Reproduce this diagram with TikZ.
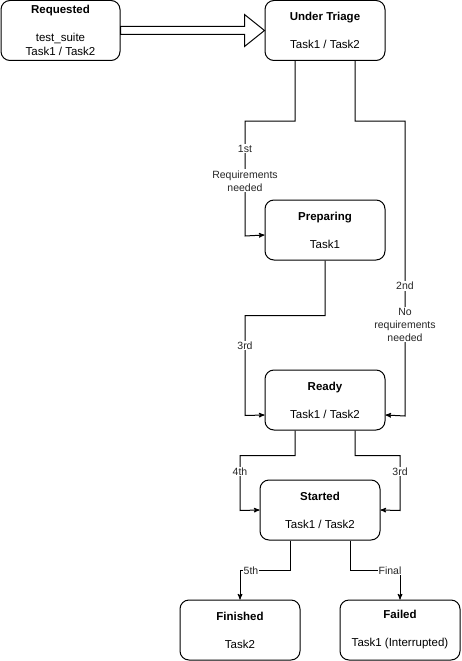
\documentclass[tikz,border=0pt]{standalone}
\usepackage{fontspec}
\setmainfont{Liberation Sans}
\usepackage{tikz}
\usetikzlibrary{arrows}

\begin{document}
\begin{tikzpicture}[->,>=stealth',x=1pt,y=-1pt,line width=1pt,
  stage/.style={shape=rectangle, draw=black, fill=white, rounded corners=9pt,
    minimum width=120pt, minimum height=60pt, align=center,
    font=\fontsize{11.5}{14}\selectfont, inner sep=0pt},
  lbl/.style={fill=white, align=center, inner sep=1pt,
    font=\fontsize{10.5}{13}\selectfont, text=black!85}]
\useasboundingbox (0,0) rectangle (461,661);
\node[stage, minimum width=119pt] (req) at (60.5,30.5) {\textbf{Requested}\\ \\test\_suite\\Task1 / Task2};
\node[stage] (triage) at (325,30.5) {\textbf{Under Triage}\\ \\Task1 / Task2};
\node[stage] (prep) at (325,230) {\textbf{Preparing}\\ \\Task1};
\node[stage] (ready) at (325,400) {\textbf{Ready}\\ \\Task1 / Task2};
\node[stage] (start) at (320,510) {\textbf{Started}\\ \\Task1 / Task2};
\node[stage] (fin) at (240,630) {\textbf{Finished}\\ \\Task2};
\node[stage] (fail) at (400,630) {\textbf{Failed}\\ \\Task1 (Interrupted)};
% hollow arrow into triage
\draw[-, fill=white] ([yshift=4pt]req.east) -- ([xshift=-20pt,yshift=4pt]triage.west)
  -- ([xshift=-20pt,yshift=16pt]triage.west) -- (triage.west)
  -- ([xshift=-20pt,yshift=-16pt]triage.west) -- ([xshift=-20pt,yshift=-4pt]triage.west)
  -- ([yshift=-4pt]req.east) -- cycle;
% triage -> preparing / ready
\draw ([xshift=-30pt]triage.south) -- ++(0,60) -- ++(-50,0)
  -- node[lbl,pos=.24]{1st} node[lbl,pos=.52]{Requirements\\needed} ++(0,115)
  -- ([yshift=-5pt]prep.west);
\draw ([xshift=30pt]triage.south) -- ++(0,60) -- ++(50,0)
  -- node[lbl,pos=.56]{2nd} node[lbl,pos=.69]{No\\requirements\\needed} ++(0,295)
  -- ([yshift=-15pt]ready.east);
\draw ([xshift=0pt]prep.south) -- ++(0,55) -- ++(-80,0)
  -- node[lbl,pos=.3]{3rd} ++(0,100) -- ([yshift=-15pt]ready.west);
% ready -> started
\draw ([xshift=-30pt]ready.south) -- ++(0,25) -- ++(-55,0)
  -- node[lbl,pos=.29]{4th} ++(0,55) -- (start.west);
\draw ([xshift=30pt]ready.south) -- ++(0,25) -- ++(45,0)
  -- node[lbl,pos=.29]{3rd} ++(0,55) -- (start.east);
% started -> end
\draw ([xshift=-30pt]start.south) -- ++(0,30) -- node[lbl,pos=.78]{5th} ++(-50,0) -- (fin.north);
\draw ([xshift=30pt]start.south) -- ++(0,30) -- node[lbl,pos=.8]{Final} ++(50,0) -- (fail.north);
\end{tikzpicture}
\end{document}
